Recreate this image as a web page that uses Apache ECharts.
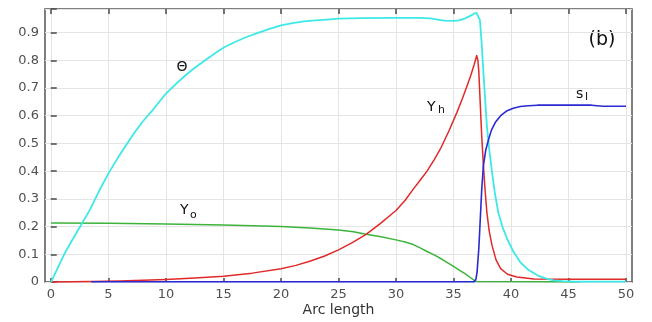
<!DOCTYPE html>
<html><head><meta charset="utf-8">
<script src="https://cdn.jsdelivr.net/npm/echarts@6/dist/echarts.min.js"></script>
<style>html,body{margin:0;padding:0;background:#fff}#c{width:652px;height:322px}</style>
</head><body><div id="c"></div><script>
// Data: [arc length, value]
const theta = [[0,0],[0.6,0.052],[1.2,0.104],[1.9,0.155],[2.7,0.212],[3.4,0.262],[4.2,0.33],[5,0.392],[5.8,0.447],[6.5,0.492],[7.2,0.536],[8,0.58],[8.8,0.618],[9.5,0.655],[10,0.68],[10.8,0.712],[11.7,0.746],[12.5,0.773],[13.5,0.803],[14.3,0.826],[15.1,0.848],[16,0.866],[17,0.884],[18,0.899],[19,0.913],[20,0.926],[21,0.934],[22,0.94],[23,0.944],[24,0.947],[25,0.95],[27,0.952],[30,0.953],[32,0.953],[33,0.951],[33.6,0.947],[34.2,0.943],[35,0.942],[35.5,0.944],[36,0.951],[36.5,0.961],[36.8,0.968],[37,0.971],[37.15,0.966],[37.3,0.945],[37.45,0.86],[37.6,0.756],[37.75,0.66],[37.9,0.564],[38.1,0.48],[38.35,0.396],[38.6,0.32],[38.9,0.25],[39.25,0.2],[39.66,0.156],[40.2,0.11],[40.8,0.072],[41.5,0.044],[42.3,0.024],[43,0.013],[43.7,0.006],[44.5,0.003],[45.5,0.001],[50,0.001]];
const yH = [[0,0],[3.5,0.002],[6,0.004],[8,0.006],[10,0.009],[12.5,0.014],[15,0.021],[17.5,0.032],[20,0.048],[21.3,0.06],[22.5,0.075],[23.8,0.094],[25,0.116],[26.2,0.142],[27.4,0.172],[28.6,0.21],[30,0.258],[30.8,0.295],[31.5,0.335],[32.1,0.367],[32.7,0.4],[33.3,0.44],[33.86,0.48],[34.6,0.545],[35.3,0.612],[35.8,0.665],[36.2,0.71],[36.5,0.745],[36.8,0.785],[37.02,0.817],[37.12,0.8],[37.2,0.76],[37.33,0.64],[37.45,0.53],[37.6,0.42],[37.75,0.33],[37.9,0.252],[38.1,0.185],[38.35,0.132],[38.7,0.08],[39.1,0.048],[39.7,0.028],[40.5,0.018],[42,0.011],[45,0.01],[50,0.01]];
const yO = [[0,0.213],[5,0.212],[10,0.209],[15,0.206],[20,0.2],[22.5,0.195],[25,0.188],[26.3,0.181],[27.4,0.172],[28.7,0.163],[30,0.152],[30.8,0.144],[31.5,0.135],[32.1,0.123],[32.7,0.11],[33.4,0.096],[34,0.082],[34.5,0.069],[35,0.056],[35.5,0.043],[36,0.03],[36.4,0.018],[36.8,0.006],[37,0.002],[46,0.001]];
const sL = [[3.5,0.001],[36.8,0.001],[36.95,0.01],[37.05,0.036],[37.2,0.12],[37.33,0.228],[37.45,0.33],[37.6,0.42],[37.8,0.475],[38.06,0.516],[38.3,0.548],[38.64,0.576],[39.1,0.6],[39.66,0.618],[40.2,0.627],[40.8,0.633],[41.5,0.636],[42.3,0.638],[47,0.638],[48,0.634],[50,0.634]];
const xName = 'Arc length';

const chart = echarts.init(document.getElementById('c'));
const F = 'DejaVu Sans';
const axisC = '#4a4a4a';
const gridC = '#e4e4e4';
function yFmt(v){ const r = Math.round(v*10)/10; if (Math.abs(v-r)>1e-6 || r>0.95) return ''; return r===0?'0':r.toFixed(1); }
const lineS = (name, data, color, w) => ({
  type:'line', name, data, xAxisIndex:2, yAxisIndex:2, showSymbol:false, symbol:'none',
  smooth:false, clip:false, lineStyle:{color, width:w, join:'round'}, animation:false
});
chart.setOption({
  animation:false,
  backgroundColor:'#fff',
  grid:[
    {left:45,right:20,top:9,bottom:40,show:true,borderColor:'#555',borderWidth:1.5,backgroundColor:'transparent'},
    {left:51,right:26,top:9,bottom:40}
  ],
  xAxis:[
    {gridIndex:0,type:'value',min:-0.5,max:50.5,position:'bottom',axisLine:{show:false},axisTick:{show:false},axisLabel:{show:false},splitLine:{show:false},
     name:xName,nameLocation:'middle',nameGap:21,nameTextStyle:{fontFamily:F,fontSize:14,color:'#333'}},
    {gridIndex:0,type:'value',min:-0.5,max:50.5,position:'top',axisLine:{show:false},axisTick:{show:false},axisLabel:{show:false},splitLine:{show:false}},
    {gridIndex:1,type:'value',min:0,max:50,interval:5,position:'bottom',axisLine:{show:false},
     axisTick:{show:true,inside:true,length:4,lineStyle:{color:axisC,width:1.5}},
     axisLabel:{fontFamily:F,fontSize:13,color:'#505050',margin:6},
     splitLine:{show:true,lineStyle:{color:gridC,width:1}}},
    {gridIndex:1,type:'value',min:0,max:50,interval:5,position:'top',axisLine:{show:false},
     axisTick:{show:true,inside:true,length:5,lineStyle:{color:axisC,width:1.5}},
     axisLabel:{show:false},splitLine:{show:false}}
  ],
  yAxis:[
    {gridIndex:0,type:'value',min:0,max:0.985,interval:0.1,position:'left',axisLine:{show:false},
     axisTick:{show:true,inside:true,length:6,lineStyle:{color:axisC,width:1.5}},
     axisLabel:{fontFamily:F,fontSize:13,color:'#505050',margin:6,formatter:yFmt},
     splitLine:{show:true,lineStyle:{color:gridC,width:1}}},
    {gridIndex:0,type:'value',min:0,max:0.985,interval:0.1,position:'right',axisLine:{show:false},
     axisTick:{show:true,inside:false,length:4,lineStyle:{color:axisC,width:1.5}},
     axisLabel:{show:false},splitLine:{show:false}},
    {gridIndex:1,type:'value',min:0,max:0.985,show:false}
  ],
  series:[
    lineS('Yo', yO, '#3cb43c', 1.5),
    lineS('Yh', yH, '#e02a2a', 1.5),
    lineS('theta', theta, '#3ee8e8', 1.8),
    lineS('sl', sL, '#2a2ad2', 1.6)
  ],
  graphic:[
    {type:'text',style:{x:182,y:67,text:'Θ',font:'14px DejaVu Sans',fill:'#111',align:'center',verticalAlign:'middle'}},
    {type:'text',style:{x:180,y:210,text:'Y',font:'14px DejaVu Sans',fill:'#111',align:'left',verticalAlign:'middle'}},
    {type:'text',style:{x:190,y:215,text:'o',font:'11px DejaVu Sans',fill:'#111',align:'left',verticalAlign:'middle'}},
    {type:'text',style:{x:427,y:107,text:'Y',font:'14px DejaVu Sans',fill:'#111',align:'left',verticalAlign:'middle'}},
    {type:'text',style:{x:438,y:110,text:'h',font:'11px DejaVu Sans',fill:'#111',align:'left',verticalAlign:'middle'}},
    {type:'text',style:{x:576,y:94,text:'s',font:'14px DejaVu Sans',fill:'#111',align:'left',verticalAlign:'middle'}},
    {type:'text',style:{x:585,y:97,text:'l',font:'11px DejaVu Sans',fill:'#111',align:'left',verticalAlign:'middle'}},
    {type:'text',style:{x:602,y:40,text:'(b)',font:'19px DejaVu Sans',fill:'#111',align:'center',verticalAlign:'middle'}}
  ]
});
</script></body></html>
